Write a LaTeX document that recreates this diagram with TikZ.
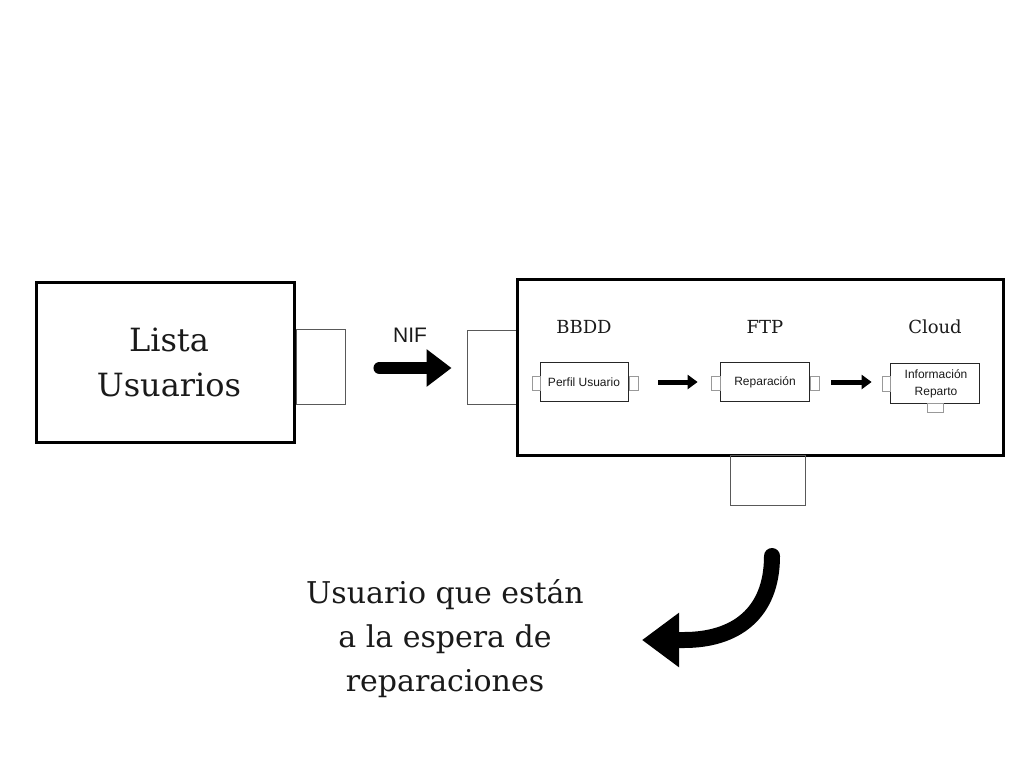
\documentclass[tikz,border=0pt]{standalone}
\usepackage{fontspec}
\setmainfont{DejaVu Serif}
\newfontfamily\sansf{Liberation Sans}
\usetikzlibrary{arrows.meta}
\definecolor{ink}{HTML}{1A1A1A}
\tikzset{
  bigbox/.style={draw=black, line width=3pt, minimum width=#1, inner sep=0pt},
  port/.style={draw=black!65, line width=0.9pt, inner sep=0pt},
  smallport/.style={draw=black!40, line width=0.8pt, inner sep=0pt},
  inbox/.style={draw=black!85, line width=1pt, inner sep=0pt},
  serifl/.style={text=ink, font=\fontsize{32}{45}\selectfont, align=center, inner sep=0pt},
  header/.style={text=ink, font=\fontsize{18}{22}\selectfont, inner sep=0pt, anchor=base},
  sanslbl/.style={text=ink, font=\sansf\fontsize{12}{17}\selectfont, align=center, inner sep=0pt},
  fatarrow/.style={line width=12pt, line cap=round, line join=round, -{Triangle[length=25pt,width=36pt]}},
  thinarrow/.style={line width=5pt, -{Triangle[length=10pt,width=14pt]}},
  curvearrow/.style={line width=16pt, line cap=round, line join=round, -{Triangle[length=37pt,width=52pt]}},
}
\begin{document}
\begin{tikzpicture}[x=1pt,y=-1pt]
\useasboundingbox (0,0) rectangle (1024,768);
% left block
\node[bigbox=258pt, minimum height=160pt] (L) at (165.5,362) {};
\node[serifl, anchor=base] (Ltxt) at (169,396) {Lista\\Usuarios};
\node[port, minimum width=49pt, minimum height=75pt] (p1) at (320.5,366.5) {};
% NIF arrow
\node[port, minimum width=49pt, minimum height=74pt] (p2) at (491.5,367) {};
\draw[fatarrow, shorten <=34pt, shorten >=15pt] (p1.east |- 0,368) -- (p2.west |- 0,368);
\node[text=ink, font=\sansf\fontsize{21}{24}\selectfont, anchor=base, inner sep=0pt] (nif) at (410,342) {NIF};
% right block
\node[bigbox=486pt, minimum height=176pt] (R) at (760,367) {};
\node[port, minimum width=75pt, minimum height=50pt] (p3) at (767.5,480.5) {};
\node[header] (h1) at (584,333) {BBDD};
\node[header] (h2) at (765,333) {FTP};
\node[header] (h3) at (935,333) {Cloud};
% inner boxes
\node[inbox, minimum width=88pt, minimum height=39pt] (b1) at (584,381.5) {};
\node[sanslbl, anchor=base] at (584,386) {Perfil Usuario};
\node[smallport, minimum width=8pt, minimum height=14pt] (b1l) at (536,383) {};
\node[smallport, minimum width=9pt, minimum height=14pt] (b1r) at (633.5,383) {};
\node[inbox, minimum width=89pt, minimum height=39pt] (b2) at (764.5,381.5) {};
\node[sanslbl, anchor=base] at (765,385) {Reparación};
\node[smallport, minimum width=9pt, minimum height=14pt] (b2l) at (715.5,383) {};
\node[smallport, minimum width=9pt, minimum height=14pt] (b2r) at (814.5,383) {};
\node[inbox, minimum width=89pt, minimum height=40pt] (b3) at (934.5,383) {};
\node[sanslbl, anchor=base] at (936,395) {Información\\Reparto};
\node[smallport, minimum width=8pt, minimum height=15pt] (b3l) at (886,383.5) {};
\node[smallport, minimum width=16pt, minimum height=9pt] (b3b) at (935,407.5) {};
\draw[thinarrow, shorten <=20pt, shorten >=13pt] (b1r.east |- 0,382) -- (b2l.west |- 0,382);
\draw[thinarrow, shorten <=12pt, shorten >=10pt] (b2r.east |- 0,382) -- (b3l.west |- 0,382);
% curved arrow
\coordinate (c1) at (772,556);
\coordinate (c3) at (684,640);
\coordinate (c2) at (642,640);
\draw[curvearrow] (c1) .. controls (772,614) and (735,640) .. (c3) -- (c2);
% bottom text
\node[serifl, font=\fontsize{30}{44}\selectfont, anchor=base] (bt) at (445,691) {Usuario que están\\a la espera de\\reparaciones};
\end{tikzpicture}
\end{document}
